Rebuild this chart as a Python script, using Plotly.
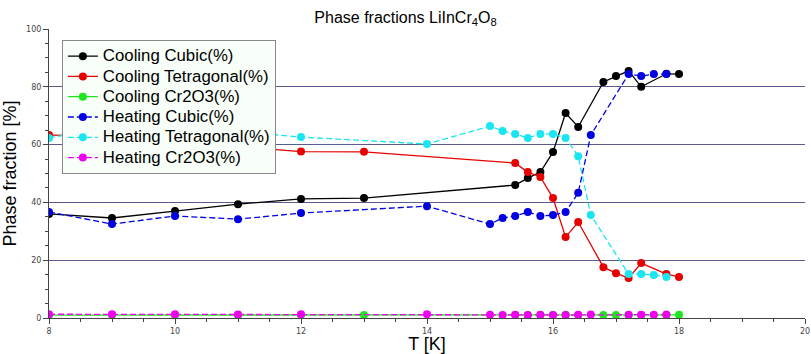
import plotly.graph_objects as go

# Cooling series
T_cool = [8, 9, 10, 11, 12, 13, 15.4, 15.6, 15.8, 16.0, 16.2, 16.4, 16.8, 17.0, 17.2, 17.4, 17.8, 18.0]
cool_cubic = [36.0, 34.6, 37.0, 39.4, 41.2, 41.5, 46.0, 48.4, 50.5, 57.4, 70.9, 66.1, 81.7, 83.7, 85.5, 80.0, 84.5, 84.4]
cool_tetra = [63.3, 63.0, 61.5, 59.3, 57.6, 57.5, 53.6, 50.5, 48.8, 41.5, 28.0, 33.2, 17.6, 15.5, 13.8, 19.0, 15.2, 14.2]
cool_cr2o3 = [1.0, 1.0, 1.0, 1.0, 1.0, 1.0, 1.0, 1.0, 1.0, 1.0, 1.1, 1.0, 1.0, 1.0, 1.0, 1.0, 1.0, 1.1]

# Heating series
T_heat = [8, 9, 10, 11, 12, 14, 15.0, 15.2, 15.4, 15.6, 15.8, 16.0, 16.2, 16.4, 16.6, 17.2, 17.4, 17.6, 17.8]
heat_cubic = [36.7, 32.5, 35.3, 34.2, 36.3, 38.7, 32.5, 34.6, 35.3, 36.7, 35.3, 35.6, 36.7, 43.3, 63.3, 84.4, 83.7, 84.4, 84.4]
heat_tetra = [62.3, 66.3, 63.7, 64.6, 62.6, 60.2, 66.4, 64.7, 63.7, 62.3, 63.7, 63.7, 62.3, 56.0, 35.6, 15.2, 15.2, 14.9, 14.2]
heat_cr2o3 = [1.3, 1.3, 1.3, 1.2, 1.3, 1.3, 1.1, 1.0, 1.1, 1.0, 1.1, 1.0, 1.0, 1.1, 1.2, 1.1, 1.1, 1.1, 1.2]

series = [
    ("Cooling Cubic(%)", T_cool, cool_cubic, "#000000", "solid"),
    ("Cooling Tetragonal(%)", T_cool, cool_tetra, "#e60000", "solid"),
    ("Cooling Cr2O3(%)", T_cool, cool_cr2o3, "#1ee61e", "solid"),
    ("Heating Cubic(%)", T_heat, heat_cubic, "#0000e0", "6px,3px"),
    ("Heating Tetragonal(%)", T_heat, heat_tetra, "#19e6f0", "6px,3px"),
    ("Heating Cr2O3(%)", T_heat, heat_cr2o3, "#f000f0", "6px,3px"),
]

fig = go.Figure()
for name, x, y, c, d in series:
    fig.add_trace(go.Scatter(
        x=x, y=y, name=f"<span style='font-size:16.8px'>{name}</span>",
        mode="lines+markers",
        line=dict(color=c, width=1.3, dash=d),
        marker=dict(color=c, size=8),
    ))

fig.update_layout(
    width=811, height=354,
    margin=dict(l=49, r=6, t=29, b=36, autoexpand=False),
    paper_bgcolor="white", plot_bgcolor="white",
    font=dict(family="Liberation Sans, Arial, sans-serif", color="#000"),
    title=dict(text="Phase fractions LiInCr<sub>4</sub>O<sub>8</sub>",
               x=0.5, xanchor="center", y=0.952, yanchor="middle",
               font=dict(size=16, family="Liberation Sans, Arial, sans-serif")),
    legend=dict(x=0.017, y=0.962, xanchor="left", yanchor="top",
                bgcolor="#f8fff8", bordercolor="#888", borderwidth=1,
                font=dict(size=13.3), itemwidth=30, tracegroupgap=0),
    showlegend=True,
)
fig.update_xaxes(
    range=[8, 20], dtick=2, tick0=8, showgrid=False, zeroline=False,
    showline=True, linecolor="#444", linewidth=1, automargin=False,
    ticks="outside", ticklen=5, tickcolor="#444",
    tickfont=dict(size=8, family="DejaVu Sans", color="#444"),
    minor=dict(dtick=0.5, ticks="outside", ticklen=3, tickcolor="#444", showgrid=False),
    title=dict(text="T [K]", font=dict(size=18), standoff=2),
)
fig.update_yaxes(
    range=[0, 100], dtick=20, showgrid=True, gridcolor="#5a5a8c", gridwidth=1,
    zeroline=False, showline=True, linecolor="#444", linewidth=1, automargin=False,
    ticks="outside", ticklen=5, tickcolor="#444",
    tickfont=dict(size=8, family="DejaVu Sans", color="#444"),
    minor=dict(dtick=5, ticks="outside", ticklen=3, tickcolor="#444", showgrid=False),
    title=dict(text="Phase fraction [%]", font=dict(size=18), standoff=8),
)

fig.write_html("out.html", config={"displayModeBar": False},
               post_script="document.body.style.margin='0';document.body.style.padding='0';")
